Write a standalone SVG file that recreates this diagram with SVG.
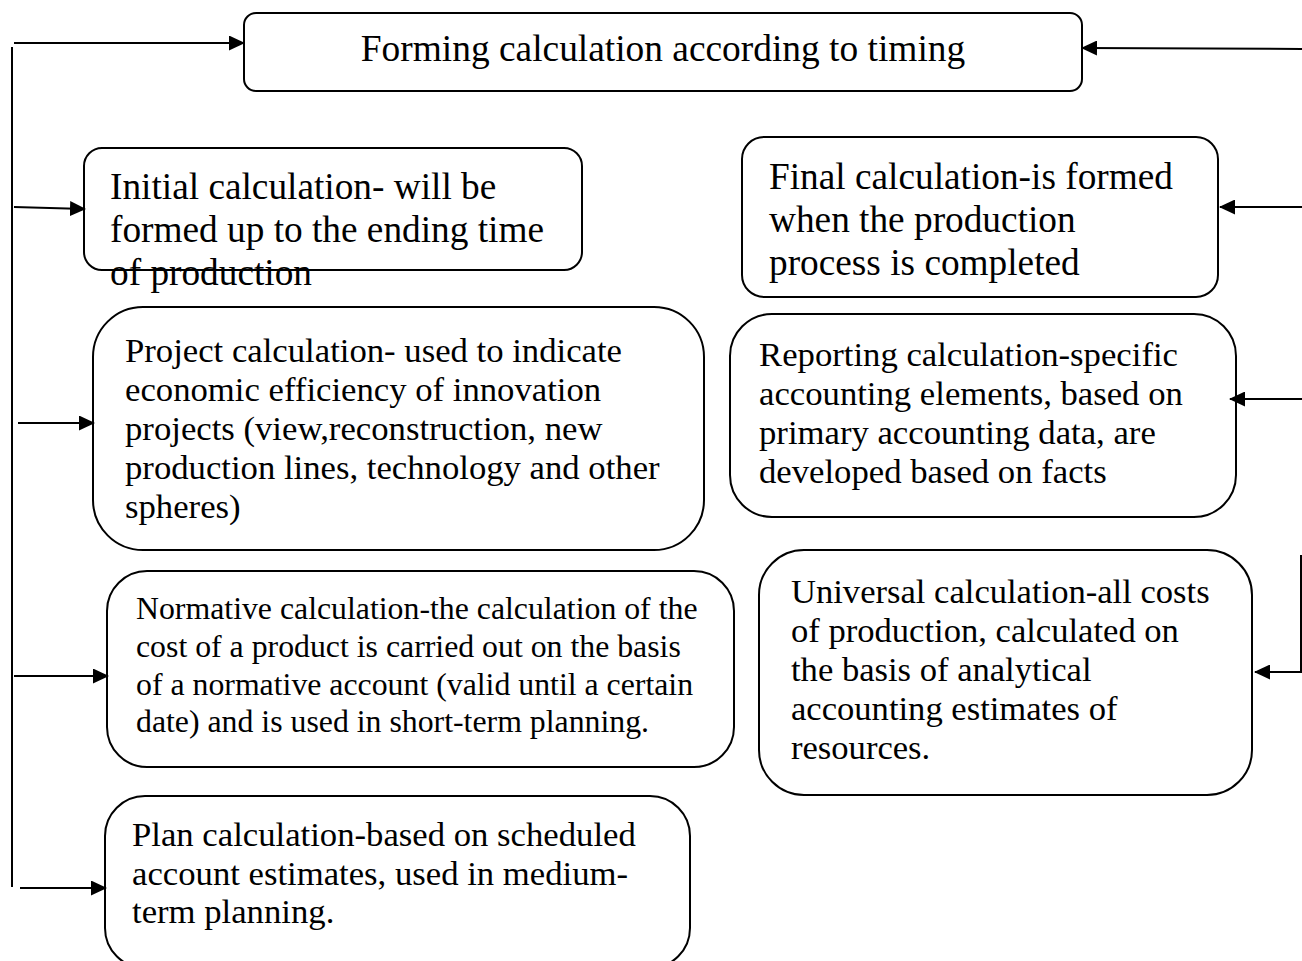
<svg xmlns="http://www.w3.org/2000/svg" width="1302" height="961" viewBox="0 0 1302 961">
<defs>
<marker id="ah" markerWidth="16" markerHeight="15" refX="15" refY="7.5" orient="auto" markerUnits="userSpaceOnUse" viewBox="0 0 16 15">
<path d="M0,0 L16,7.5 L0,15 z" fill="#000"/>
</marker>
</defs>
<style>
.box{fill:#fff;stroke:#000;stroke-width:2}
.t{font-family:"Liberation Serif","Times New Roman",serif;fill:#000}
.c{stroke:#000;stroke-width:2;fill:none;marker-end:url(#ah)}
.l{stroke:#000;stroke-width:2;fill:none}
</style>
<rect width="1302" height="961" fill="#fff"/>
<g id="node-title">
<rect class="box" x="244" y="13" width="838" height="78" rx="12"/>
<text class="t" x="663" y="61" font-size="37.4" text-anchor="middle">Forming calculation according to timing</text>
</g>
<g id="node-initial">
<rect class="box" x="84" y="148" width="498" height="122" rx="18"/>
<text class="t" font-size="37.3"><tspan x="110" y="199">Initial calculation- will be</tspan><tspan x="110" y="242">formed up to the ending time</tspan><tspan x="110" y="285">of production</tspan></text>
</g>
<g id="node-final">
<rect class="box" x="742" y="137" width="476" height="160" rx="22"/>
<text class="t" font-size="37.3"><tspan x="769" y="189">Final calculation-is formed</tspan><tspan x="769" y="232">when the production</tspan><tspan x="769" y="275">process is completed</tspan></text>
</g>
<g id="node-project">
<rect class="box" x="93" y="307" width="611" height="243" rx="50"/>
<text class="t" font-size="34.7"><tspan x="125" y="362">Project calculation- used to indicate</tspan><tspan x="125" y="401">economic efficiency of innovation</tspan><tspan x="125" y="440">projects (view,reconstruction, new</tspan><tspan x="125" y="479">production lines, technology and other</tspan><tspan x="125" y="518">spheres)</tspan></text>
</g>
<g id="node-reporting">
<rect class="box" x="730" y="314" width="506" height="203" rx="42"/>
<text class="t" font-size="34.7"><tspan x="759" y="366">Reporting calculation-specific</tspan><tspan x="759" y="405">accounting elements, based on</tspan><tspan x="759" y="444">primary accounting data, are</tspan><tspan x="759" y="483">developed based on facts</tspan></text>
</g>
<g id="node-normative">
<rect class="box" x="107" y="571" width="627" height="196" rx="40"/>
<text class="t" font-size="31.8"><tspan x="136" y="619">Normative calculation-the calculation of the</tspan><tspan x="136" y="657">cost of a product is carried out on the basis</tspan><tspan x="136" y="695">of a normative account (valid until a certain</tspan><tspan x="136" y="732">date) and is used in short-term planning.</tspan></text>
</g>
<g id="node-universal">
<rect class="box" x="759" y="550" width="493" height="245" rx="45"/>
<text class="t" font-size="34.6"><tspan x="791" y="603">Universal calculation-all costs</tspan><tspan x="791" y="642">of production, calculated on</tspan><tspan x="791" y="681">the basis of analytical</tspan><tspan x="791" y="720">accounting estimates of</tspan><tspan x="791" y="759">resources.</tspan></text>
</g>
<g id="node-plan">
<rect class="box" x="105" y="796" width="585" height="172" rx="40"/>
<text class="t" font-size="34.7"><tspan x="132" y="846">Plan calculation-based on scheduled</tspan><tspan x="132" y="885">account estimates, used in medium-</tspan><tspan x="132" y="923">term planning.</tspan></text>
</g>
<g id="connectors">
<line class="l" x1="12" y1="47" x2="12" y2="887"/>
<line class="c" x1="14" y1="43" x2="244" y2="43"/>
<line class="c" x1="1302" y1="49" x2="1082" y2="48"/>
<line class="c" x1="14" y1="207" x2="85" y2="209"/>
<line class="c" x1="1302" y1="207" x2="1220" y2="207"/>
<line class="c" x1="1302" y1="399" x2="1230" y2="399"/>
<line class="c" x1="18" y1="423" x2="94" y2="423"/>
<line class="c" x1="14" y1="676" x2="108" y2="676"/>
<polyline class="c" points="1301,555 1301,672 1255,672"/>
<line class="c" x1="20" y1="888" x2="106" y2="888"/>
</g>
</svg>
